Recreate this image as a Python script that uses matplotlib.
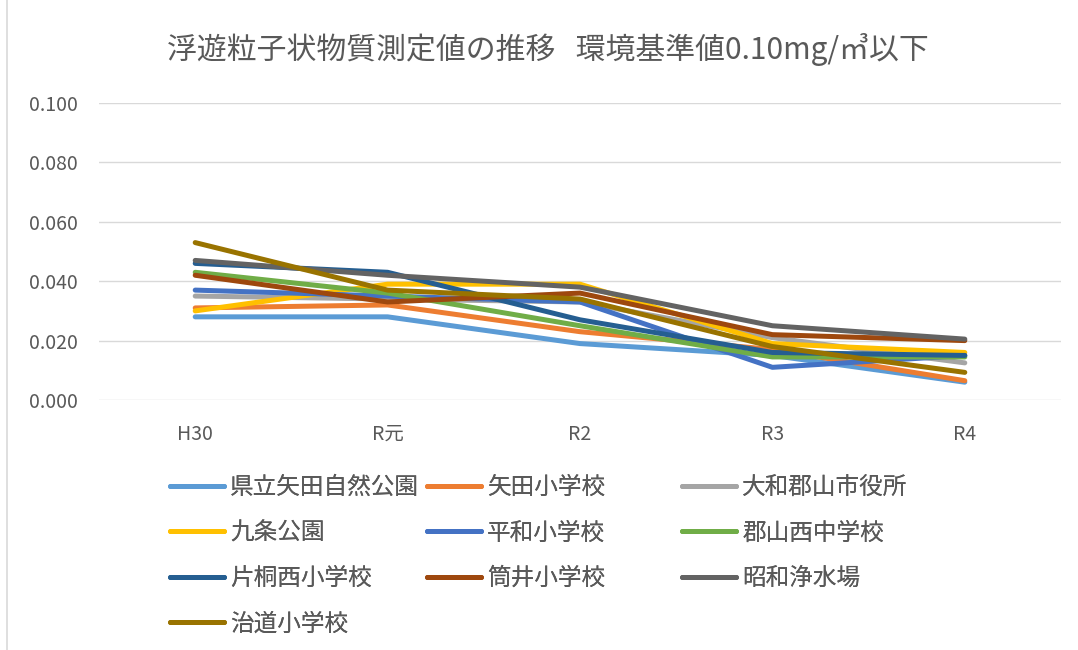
import matplotlib
matplotlib.use("Agg")
import matplotlib.pyplot as plt
from matplotlib.lines import Line2D

plt.rcParams['font.family'] = ['Noto Sans CJK JP', 'DejaVu Sans']

years = ['H30', 'R元', 'R2', 'R3', 'R4']
sites = ['県立矢田自然公園', '矢田小学校', '大和郡山市役所', '九条公園', '平和小学校',
         '郡山西中学校', '片桐西小学校', '筒井小学校', '昭和浄水場', '治道小学校']

kenritsu_yata = [0.028, 0.028, 0.019, 0.015, 0.006]
yata_sho = [0.031, 0.032, 0.023, 0.017, 0.0065]
koriyama_shiyakusho = [0.035, 0.034, 0.033, 0.021, 0.0125]
kujo_koen = [0.030, 0.039, 0.039, 0.019, 0.016]
heiwa_sho = [0.037, 0.035, 0.033, 0.011, 0.015]
koriyama_nishi_chu = [0.043, 0.036, 0.025, 0.0145, 0.0145]
katagiri_nishi_sho = [0.046, 0.043, 0.027, 0.016, 0.015]
tsutsui_sho = [0.042, 0.033, 0.036, 0.022, 0.020]
showa_josuijo = [0.047, 0.042, 0.038, 0.025, 0.0205]
harumichi_sho = [0.053, 0.037, 0.034, 0.018, 0.0093]

series = [kenritsu_yata, yata_sho, koriyama_shiyakusho, kujo_koen, heiwa_sho,
          koriyama_nishi_chu, katagiri_nishi_sho, tsutsui_sho, showa_josuijo, harumichi_sho]
colors = ['#5B9BD5', '#ED7D31', '#A5A5A5', '#FFC000', '#4472C4',
          '#70AD47', '#255E91', '#9E480E', '#636363', '#997300']

text_color = '#595959'

fig = plt.figure(figsize=(10.78, 6.5), dpi=100)
ax = fig.add_axes([99 / 1078, 1 - 400 / 650, (1061 - 99) / 1078, (400 - 103) / 650])

x = range(len(years))
for vals, c in zip(series, colors):
    ax.plot(x, vals, color=c, lw=3.6, solid_capstyle='round', solid_joinstyle='round')

ax.set_xlim(-0.5, len(years) - 0.5)
ax.set_ylim(0, 0.1)
ax.set_yticks([0, 0.02, 0.04, 0.06, 0.08, 0.1])
ax.set_yticklabels(['%.3f' % v for v in ax.get_yticks()])
ax.set_xticks(list(x))
ax.set_xticklabels(years)
ax.tick_params(axis='y', length=0, pad=15, labelsize=14, labelcolor=text_color)
ax.tick_params(axis='x', length=0, pad=17, labelsize=14, labelcolor=text_color)
ax.grid(axis='y', color='#D9D9D9', lw=1)
ax.set_axisbelow(True)
for s in ax.spines.values():
    s.set_visible(False)

fig.text(548 / 1078, 1 - 50 / 650,
         '浮遊粒子状物質測定値の推移   環境基準値0.10mg/㎥以下',
         ha='center', va='center', fontsize=21.5, color=text_color)

# legend: three fixed-width columns, filled row by row
col_x = [170 / 1078, 427 / 1078, 682 / 1078]
for col in range(3):
    idx = list(range(col, len(sites), 3))
    handles = [Line2D([], [], color=colors[i], lw=3.6, solid_capstyle='round') for i in idx]
    leg = fig.legend(handles, [sites[i] for i in idx], loc='upper left',
                     bbox_to_anchor=(col_x[col], 1 - 476 / 650), frameon=False,
                     fontsize=17, handlelength=2.3, handletextpad=0.25,
                     labelspacing=0.95, borderaxespad=0, borderpad=0)
    for t in leg.get_texts():
        t.set_color(text_color)
    fig.add_artist(leg)

# chart frame edge
fig.add_artist(Line2D([7 / 1078, 7 / 1078], [0, 1], color='#D9D9D9', lw=1.2))

fig.savefig('out.png', dpi=100)
